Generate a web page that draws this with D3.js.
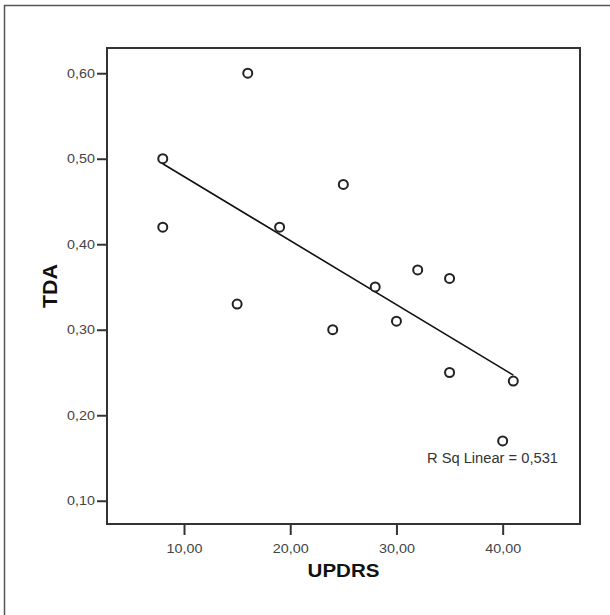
<!doctype HTML>
<html>
<head>
  <script src="https://cdn.jsdelivr.net/npm/d3@7"></script>
  <style>
    body { margin: 0; background: #fff; }
    text { font-family: "Liberation Sans", Arial, sans-serif; }
  </style>
</head>
<body>
<div id="chart"></div>
<script>

// data
var updrs = [8, 8, 16, 15, 19, 25, 24, 28, 32, 35, 30, 35, 41, 40];
var tda   = [0.50, 0.42, 0.60, 0.33, 0.42, 0.47, 0.30, 0.35, 0.37, 0.36, 0.31, 0.25, 0.24, 0.17];
var xTicks = [10, 20, 30, 40];
var yTicks = [0.10, 0.20, 0.30, 0.40, 0.50, 0.60];
var rsqLabel = "R Sq Linear = 0,531";

var width = 610,
  height = 615;

var svg = d3.select("#chart").append("svg")
  .attr("width", width)
  .attr("height", height);

// the reference font runs a little wider than Liberation Sans
function widen(sel, k) {
  sel.each(function() {
    var w = this.getComputedTextLength();
    d3.select(this).attr("textLength", w * k).attr("lengthAdjust", "spacingAndGlyphs");
  });
}

// outer frame (only left and top edges show in the picture)
svg.append("path")
  .attr("d", "M4.5," + height + "V5.5H" + width)
  .attr("fill", "none").attr("stroke", "#555").attr("stroke-width", 1.5);

var plotL = 107, plotR = 580, plotT = 48, plotB = 524;

var x = d3.scaleLinear().domain([2.75, 47.28]).range([plotL, plotR]);
var y = d3.scaleLinear().domain([0.0728, 0.6295]).range([plotB, plotT]);

var comma = function(d) { return d.toFixed(2).replace(".", ","); };

var xAxis = svg.append("g")
  .attr("transform", "translate(0," + plotB + ")")
  .call(d3.axisBottom(x).tickValues(xTicks).tickSize(11).tickPadding(9).tickFormat(comma));

var yAxis = svg.append("g")
  .attr("transform", "translate(" + plotL + ",0)")
  .call(d3.axisLeft(y).tickValues(yTicks).tickSize(10).tickPadding(2).tickFormat(comma));

[xAxis, yAxis].forEach(function(g) {
  g.select(".domain").remove();
  g.selectAll(".tick line").attr("stroke", "#333").attr("stroke-width", 2);
  g.selectAll(".tick text").attr("fill", "#444").style("font-size", "12.8px")
    .call(widen, 1.12);
});

// plot box
svg.append("rect")
  .attr("x", plotL).attr("y", plotT)
  .attr("width", plotR - plotL).attr("height", plotB - plotT)
  .attr("fill", "none").attr("stroke", "#333").attr("stroke-width", 2);

// least squares fit
var pts = updrs.map(function(d, i) { return [d, tda[i]]; });
var mx = d3.mean(updrs), my = d3.mean(tda);
var sxy = d3.sum(pts, function(p) { return (p[0] - mx) * (p[1] - my); });
var sxx = d3.sum(pts, function(p) { return (p[0] - mx) * (p[0] - mx); });
var slope = sxy / sxx, icpt = my - slope * mx;
var x0 = d3.min(updrs), x1 = d3.max(updrs);

svg.append("line")
  .attr("x1", x(x0)).attr("y1", y(icpt + slope * x0))
  .attr("x2", x(x1)).attr("y2", y(icpt + slope * x1))
  .attr("stroke", "#111").attr("stroke-width", 1.6);

svg.selectAll("circle").data(pts)
  .enter().append("circle")
  .attr("cx", function(d) { return x(d[0]); })
  .attr("cy", function(d) { return y(d[1]); })
  .attr("r", 4.5)
  .attr("fill", "#fff").attr("stroke", "#222").attr("stroke-width", 2);

svg.append("text")
  .attr("x", 558).attr("y", 463)
  .attr("text-anchor", "end")
  .attr("fill", "#333").style("font-size", "14.7px")
  .text(rsqLabel);

svg.append("text")
  .attr("x", (plotL + plotR) / 2).attr("y", 577)
  .attr("text-anchor", "middle")
  .attr("fill", "#111").style("font-size", "19px").style("font-weight", "bold")
  .text("UPDRS")
  .call(widen, 1.08);

svg.append("text")
  .attr("transform", "translate(57," + (plotT + plotB) / 2 + ") rotate(-90)")
  .attr("text-anchor", "middle")
  .attr("fill", "#111").style("font-size", "19.5px").style("font-weight", "bold")
  .text("TDA")
  .call(widen, 1.1);

</script>
</body>
</html>
